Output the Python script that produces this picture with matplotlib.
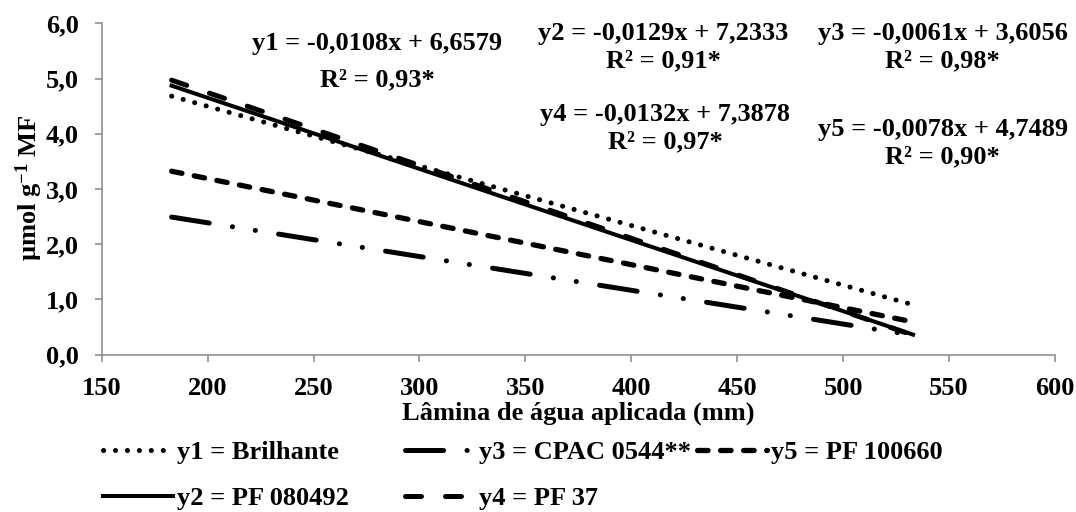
import matplotlib
matplotlib.use("Agg")
import matplotlib.pyplot as plt

# lamina de agua (mm) at the ends of each fitted line
lamina = [183, 533]

# fitted values read at the two ends of each line
y1_brilhante = [4.68, 0.90]
y2_pf080492 = [4.87, 0.36]
y3_cpac0544 = [2.49, 0.35]
y4_pf37 = [4.97, 0.35]
y5_pf100660 = [3.32, 0.59]

labels = ["y1 = Brilhante", "y2 = PF 080492", "y3 = CPAC 0544**",
          "y4 = PF 37", "y5 = PF 100660"]

eq_lines = ["y1 = -0,0108x + 6,6579", "y2 = -0,0129x + 7,2333",
            "y3 = -0,0061x + 3,6056", "y4 = -0,0132x + 7,3878",
            "y5 = -0,0078x + 4,7489"]
r2_lines = ["R² = 0,93*", "R² = 0,91*", "R² = 0,98*", "R² = 0,97*", "R² = 0,90*"]

x_ticks = [150, 200, 250, 300, 350, 400, 450, 500, 550, 600]
y_ticks = [0, 1, 2, 3, 4, 5, 6]

plt.rcParams['font.family'] = ['Liberation Serif', 'DejaVu Serif']
plt.rcParams['font.weight'] = 'bold'
plt.rcParams['mathtext.fontset'] = 'custom'
plt.rcParams['mathtext.rm'] = 'Liberation Serif:bold'
plt.rcParams['mathtext.default'] = 'rm'
plt.rcParams['lines.scale_dashes'] = False

fs = 19
gray = '#888888'
W, H = 1076, 512

fig = plt.figure(figsize=(W / 100, H / 100), dpi=100)
# axes box in pixels: x 101.7..1055, y 23.3..354.5
ax = fig.add_axes([101.7 / W, 1 - 354.5 / H, (1055 - 101.7) / W, (354.5 - 23.3) / H])

styles = [
    dict(ls=(0, (0.1, 8.5)), lw=3.6, dash_capstyle='round'),
    dict(ls='-', lw=2.9),
    dict(ls=(0, (27.4, 16.9, 0.1, 16.6, 0.1, 16.9)), lw=3.6, dash_capstyle='round'),
    dict(ls=(0, (11.5, 17.3)), lw=3.6, dash_capstyle='round'),
    dict(ls=(0, (7.6, 9.0)), lw=3.8, dash_capstyle='round'),
]
series = [y1_brilhante, y2_pf080492, y3_cpac0544, y4_pf37, y5_pf100660]
handles = []
for vals, st, lab in zip(series, styles, labels):
    h, = ax.plot(lamina, vals, color='black', label=lab, **st)
    handles.append(h)

ax.set_xlim(150, 600)
ax.set_ylim(0, 6)
ax.set_xticks(x_ticks)
ax.set_yticks(y_ticks)
ax.set_yticklabels([f"{v:.1f}".replace('.', ',') for v in y_ticks])
ax.tick_params(colors=gray, labelcolor='black', labelsize=fs, length=5.3,
               width=1.1, pad=11)
for s in ['top', 'right']:
    ax.spines[s].set_visible(False)
for s in ['left', 'bottom']:
    ax.spines[s].set_color(gray)
    ax.spines[s].set_linewidth(1.1)

ax.set_xlabel("Lâmina de água aplicada (mm)", fontsize=fs, fontweight='bold', va='center')
ax.xaxis.set_label_coords(0.5, -0.177)
ax.set_ylabel("µmol g$^{-1}$ MF", fontsize=fs, fontweight='bold', va='center')
ax.yaxis.set_label_coords(-0.0763, 0.503)

# trendline labels: (x centre, y of equation line, y of R2 line) in data units
eq_pos = [(280, 5.64, 4.97), (415, 5.82, 5.32), (547, 5.82, 5.32),
          (416, 4.34, 3.85), (547, 4.07, 3.58)]
for eq, r2, (xx, ya, yb) in zip(eq_lines, r2_lines, eq_pos):
    ax.text(xx, ya, eq, ha='center', va='center', fontsize=fs, fontweight='bold')
    ax.text(xx, yb, r2, ha='center', va='center', fontsize=fs, fontweight='bold')

# legend entries placed like the original (pixel positions of handle start, row centre)
leg_pos = [(103, 452), (103, 498), (405, 452), (405, 498), (697, 452)]
for h, lab, (px, py) in zip(handles, labels, leg_pos):
    fig.legend([h], [lab], loc='center left', bbox_to_anchor=(px / W, 1 - py / H),
               frameon=False, fontsize=fs, handlelength=2.65, handletextpad=0.15,
               borderaxespad=0, borderpad=0)

fig.savefig("out.png", dpi=100)
